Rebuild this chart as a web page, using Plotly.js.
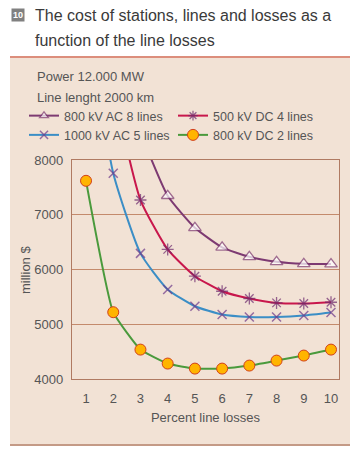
<!DOCTYPE html>
<html>
<head>
<meta charset="utf-8">
<script src="https://cdn.plot.ly/plotly-3.0.1.min.js"></script>
<style>html,body{margin:0;padding:0;background:#fff;}#chart{width:364px;height:453px;}</style>
</head>
<body>
<div id="chart"></div>
<script>
// Data
const losses = [1, 2, 3, 4, 5, 6, 7, 8, 9, 10];
const ac800_8 = [null, null, 8500, 7347, 6762, 6404, 6232, 6141, 6104, 6099];
const ac1000_5 = [10800, 7757, 6294, 5636, 5329, 5177, 5133, 5133, 5160, 5214];
const dc500_4 = [null, 9300, 7269, 6367, 5878, 5603, 5470, 5390, 5378, 5402];
const dc800_2 = [7620, 5220, 4537, 4282, 4190, 4190, 4245, 4336, 4428, 4537];
const xTicks = [1, 2, 3, 4, 5, 6, 7, 8, 9, 10];
const yTicks = [4000, 5000, 6000, 7000, 8000];
const seriesNames = ['800 kV AC 8 lines', '500 kV DC 4 lines', '1000 kV AC 5 lines', '800 kV DC 2 lines'];

// markers only on visible data points (off-chart extension values carry no marker)
function markerSizes(arr, limit, size) {
  return arr.map(v => (v !== null && v <= limit) ? size : 0);
}

const FONT = '"Liberation Sans", Arial, Helvetica, sans-serif';
const TXT = '#555555';

const traces = [
  {
    x: losses, y: ac800_8, name: seriesNames[0], mode: 'lines+markers', legend: 'legend',
    line: {color: '#7d3a72', width: 2, shape: 'spline', smoothing: 0.5},
    marker: {symbol: 'triangle-up', size: markerSizes(ac800_8, 8000, 11), color: '#ffffff', line: {color: '#7d3a72', width: 1.3}}
  },
  {
    x: losses, y: ac1000_5, name: seriesNames[2], mode: 'lines+markers', legend: 'legend',
    line: {color: '#3b8ec6', width: 2, shape: 'spline', smoothing: 0.5},
    marker: {symbol: 'x-thin', size: markerSizes(ac1000_5, 8000, 9), color: '#6e3a8a', line: {color: '#6e3a8a', width: 1.5}}
  },
  {
    x: losses, y: dc500_4, name: seriesNames[1], mode: 'lines+markers', legend: 'legend2',
    line: {color: '#c8174c', width: 2, shape: 'spline', smoothing: 0.5},
    marker: {symbol: 'asterisk', size: markerSizes(dc500_4, 8000, 10), color: '#6e2a6e', line: {color: '#6e2a6e', width: 1.3}}
  },
  {
    x: losses, y: dc800_2, name: seriesNames[3], mode: 'lines+markers', legend: 'legend2',
    line: {color: '#4a9a3c', width: 2, shape: 'spline', smoothing: 0.4},
    marker: {symbol: 'circle', size: 11, color: '#ffb400', line: {color: '#d2401a', width: 1}}
  }
];

// plot area in pixels: x 72..339, y 160..379
const L = 72, R = 339, T = 160, B = 379;
const px = v => (v - L) / (R - L);
const py = v => (B - v) / (B - T);

const legendBase = {
  orientation: 'v', y: py(101), xanchor: 'left', yanchor: 'top',
  bgcolor: 'rgba(0,0,0,0)', borderwidth: 0,
  font: {family: FONT, size: 12.5, color: TXT}, tracegroupgap: 0, traceorder: 'normal'
};

const layout = {
  width: 364, height: 453,
  margin: {l: L, r: 364 - R, t: T, b: 453 - B, pad: 0},
  paper_bgcolor: '#ffffff',
  plot_bgcolor: 'rgba(0,0,0,0)',
  font: {family: FONT, size: 13, color: TXT},
  showlegend: true,
  legend: Object.assign({}, legendBase, {x: px(24)}),
  legend2: Object.assign({}, legendBase, {x: px(173)}),
  xaxis: {
    range: [0.485, 10.294], tickvals: xTicks, ticktext: xTicks.map(String),
    showgrid: false, zeroline: false, showline: true, mirror: true,
    linecolor: '#b07a62', linewidth: 1.2, ticks: '', ticklabelstandoff: 7,
    tickfont: {family: FONT, size: 13, color: TXT},
    title: {text: 'Percent line losses', font: {family: FONT, size: 13, color: TXT}, standoff: 8}
  },
  yaxis: {
    range: [4000, 8000], tickvals: yTicks, ticktext: yTicks.map(String),
    showgrid: true, gridcolor: '#c48a6c', gridwidth: 1.2, zeroline: false,
    showline: true, mirror: true, linecolor: '#b07a62', linewidth: 1.2,
    ticks: '', ticklabelstandoff: 5,
    tickfont: {family: FONT, size: 13, color: TXT},
    title: {text: ''}
  },
  shapes: [
    {type: 'rect', xref: 'paper', yref: 'paper', x0: px(10), x1: px(350), y0: py(445), y1: py(57),
     fillcolor: '#f2e2d5', line: {width: 0}, layer: 'below'},
    {type: 'line', xref: 'paper', yref: 'paper', x0: px(10), x1: px(350), y0: py(57), y1: py(57),
     line: {color: '#dc8e7c', width: 2}, layer: 'below'},
    {type: 'line', xref: 'paper', yref: 'paper', x0: px(10), x1: px(350), y0: py(445), y1: py(445),
     line: {color: '#c49a86', width: 2}, layer: 'below'}
  ],
  annotations: [
    {xref: 'paper', yref: 'paper', x: px(11), y: py(15), xanchor: 'left', yanchor: 'middle',
     text: '<b>10</b>', showarrow: false, bgcolor: '#808080', borderpad: 1,
     font: {family: FONT, size: 9, color: '#ffffff'}},
    {xref: 'paper', yref: 'paper', x: px(33), y: py(15), xanchor: 'left', yanchor: 'middle', align: 'left',
     text: 'The cost of stations, lines and losses as a', showarrow: false,
     font: {family: FONT, size: 16, color: '#3a3a3a'}},
    {xref: 'paper', yref: 'paper', x: px(33), y: py(40), xanchor: 'left', yanchor: 'middle', align: 'left',
     text: 'function of the line losses', showarrow: false,
     font: {family: FONT, size: 16, color: '#3a3a3a'}},
    {xref: 'paper', yref: 'paper', x: px(35), y: py(77), xanchor: 'left', yanchor: 'middle',
     text: 'Power 12.000 MW', showarrow: false, font: {family: FONT, size: 13, color: TXT}},
    {xref: 'paper', yref: 'paper', x: px(35), y: py(97), xanchor: 'left', yanchor: 'middle',
     text: 'Line lenght 2000 km', showarrow: false, font: {family: FONT, size: 13, color: TXT}},
    {xref: 'paper', yref: 'paper', x: px(25), y: py(270), xanchor: 'center', yanchor: 'middle',
     text: 'million $', textangle: -90, showarrow: false, font: {family: FONT, size: 13, color: TXT}}
  ]
};

Plotly.newPlot('chart', traces, layout, {staticPlot: true, displayModeBar: false});
</script>
</body>
</html>
